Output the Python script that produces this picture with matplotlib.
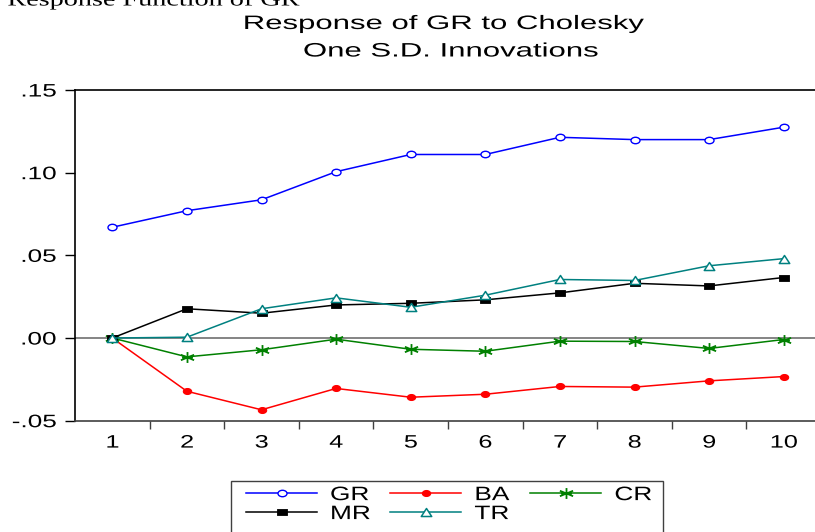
import matplotlib
matplotlib.use("Agg")
import numpy as np
import matplotlib.pyplot as plt
from matplotlib.path import Path
from matplotlib.patches import Rectangle
from matplotlib.patheffects import AbstractPathEffect
from matplotlib.transforms import Affine2D

periods = [1, 2, 3, 4, 5, 6, 7, 8, 9, 10]
x_labels = ["1", "2", "3", "4", "5", "6", "7", "8", "9", "10"]
gr = [0.0670, 0.0770, 0.0836, 0.1006, 0.1110, 0.1110, 0.1214, 0.1200, 0.1200, 0.1275]
ba = [0.0000, -0.0322, -0.0434, -0.0305, -0.0358, -0.0340, -0.0293, -0.0297, -0.0259, -0.0233]
cr = [0.0000, -0.0114, -0.0071, -0.0007, -0.0068, -0.0080, -0.0019, -0.0021, -0.0063, -0.0009]
mr = [0.0000, 0.0177, 0.0150, 0.0200, 0.0210, 0.0231, 0.0273, 0.0331, 0.0315, 0.0366]
tr = [0.0000, 0.0005, 0.0177, 0.0243, 0.0186, 0.0259, 0.0354, 0.0348, 0.0437, 0.0480]
y_ticks = [-0.05, 0.00, 0.05, 0.10, 0.15]
y_labels = ["-.05", ".00", ".05", ".10", ".15"]

plt.rcParams['font.family'] = ['Liberation Sans', 'DejaVu Sans']


class HStretch(AbstractPathEffect):
    """Horizontally stretch text glyphs (the reference image is widened)."""
    def __init__(self, sx, anchor='center'):
        super().__init__()
        self.sx = sx
        self.anchor = anchor

    def draw_path(self, renderer, gc, tpath, affine, rgbFace=None):
        v = tpath.vertices
        if len(v):
            if self.anchor == 'left':
                cx = v[:, 0].min()
            elif self.anchor == 'right':
                cx = v[:, 0].max()
            else:
                cx = 0.5 * (v[:, 0].min() + v[:, 0].max())
        else:
            cx = 0.0
        t = Affine2D().translate(-cx, 0).scale(self.sx, 1).translate(cx, 0)
        renderer.draw_path(gc, tpath, t + affine, rgbFace)


def stretched(path, sx):
    return Path(path.vertices * np.array([sx, 1.0]), path.codes)


SX = 1.4
m_circle = stretched(Path.unit_circle(), SX)
m_square = Path([(-1.4, -1), (1.4, -1), (1.4, 1), (-1.4, 1), (-1.4, -1)],
                [Path.MOVETO, Path.LINETO, Path.LINETO, Path.LINETO, Path.CLOSEPOLY])
m_tri = Path([(0, 1), (-1.3, -1), (1.3, -1), (0, 1)],
             [Path.MOVETO, Path.LINETO, Path.LINETO, Path.CLOSEPOLY])
ang = np.deg2rad([90, 30, 150])
verts, codes = [], []
for a in ang:
    verts += [(-SX * np.cos(a), -np.sin(a)), (SX * np.cos(a), np.sin(a))]
    codes += [Path.MOVETO, Path.LINETO]
verts += [(-1.0, 0), (1.0, 0)]
codes += [Path.MOVETO, Path.LINETO]
m_ast = Path(verts, codes)

W, H = 815, 532
fig = plt.figure(figsize=(W / 100, H / 100), dpi=100)
ax = fig.add_axes([75 / W, (H - 420.7) / H, (821 - 75) / W, (420.7 - 90) / H])

ax.axhline(0, color='#707070', lw=1.2, zorder=1)

ax.plot(periods, gr, color='#0000FF', lw=1.1, marker=m_circle, mfc='white', mec='#0000FF', ms=6.5, mew=1.0, label='GR', zorder=3)
ax.plot(periods, ba, color='#FF0000', lw=1.1, marker=m_circle, mfc='#FF0000', mec='#FF0000', ms=6.0, mew=0.8, label='BA', zorder=3)
ax.plot(periods, cr, color='#008000', lw=1.1, marker=m_ast, mfc='#008000', mec='#008000', ms=9.5, mew=1.3, label='CR', zorder=3)
ax.plot(periods, mr, color='black', lw=1.1, marker=m_square, mfc='black', mec='black', ms=7.0, mew=0.6, label='MR', zorder=3)
ax.plot(periods, tr, color='#008080', lw=1.1, marker=m_tri, mfc='white', mec='#008080', ms=7.5, mew=1.1, label='TR', zorder=4)

ax.set_xlim(0.5, 10.5)
ax.set_ylim(-0.05, 0.15)
ax.set_yticks(y_ticks)
ax.set_yticklabels(y_labels, fontsize=13)
ax.set_xticks(periods)
ax.set_xticklabels(x_labels, fontsize=13)
ax.set_xticks([p + 0.5 for p in periods[:-1]], minor=True)
ax.tick_params(axis='x', which='major', length=0, pad=10)
ax.tick_params(axis='x', which='minor', length=6, width=1.0, direction='out', color='#404040')
ax.tick_params(axis='y', which='major', length=7.5, width=1.0, direction='out', pad=6)
for lab in ax.get_xticklabels():
    lab.set_path_effects([HStretch(1.4, 'center')])
for lab in ax.get_yticklabels():
    lab.set_path_effects([HStretch(1.45, 'right')])
for s in ['top', 'left']:
    ax.spines[s].set_color('black')
    ax.spines[s].set_linewidth(1.2)
ax.spines['bottom'].set_color('#404040')
ax.spines['bottom'].set_linewidth(1.2)
ax.spines['right'].set_visible(False)

t1 = fig.text(444 / W, 1 - 29 / H, "Response of GR to Cholesky", ha='center', va='baseline', fontsize=14)
t2 = fig.text(451 / W, 1 - 56.5 / H, "One S.D. Innovations", ha='center', va='baseline', fontsize=14)
for t in (t1, t2):
    t.set_path_effects([HStretch(1.6, 'center')])
t0 = fig.text(301 / W, 1 - 5.5 / H, "Impulse Response Function of GR", ha='right', va='baseline',
              fontsize=14, family=['Liberation Serif', 'DejaVu Serif'])
t0.set_path_effects([HStretch(1.45, 'right')])

handles, labels = ax.get_legend_handles_labels()
order = [0, 3, 1, 4, 2]  # column-wise fill -> rows: GR BA CR / MR TR
fs = 14
fpx = fs * 100 / 72
leg = fig.legend([handles[i] for i in order], [labels[i] for i in order],
                 loc='upper left', bbox_to_anchor=(246 / W, 1 - 486.5 / H),
                 ncol=3, fontsize=fs, handlelength=71 / fpx, handletextpad=13 / fpx,
                 columnspacing=30 / fpx, frameon=False, borderpad=0, labelspacing=0.07,
                 borderaxespad=0)
for t in leg.get_texts():
    t.set_path_effects([HStretch(1.35, 'left')])
fig.patches.append(Rectangle((231 / W, -0.05), (663 - 231) / W, 0.05 + (H - 481) / H,
                             transform=fig.transFigure, fill=False, edgecolor='#404040',
                             lw=1.0, figure=fig))

fig.savefig("out.png", dpi=100)
